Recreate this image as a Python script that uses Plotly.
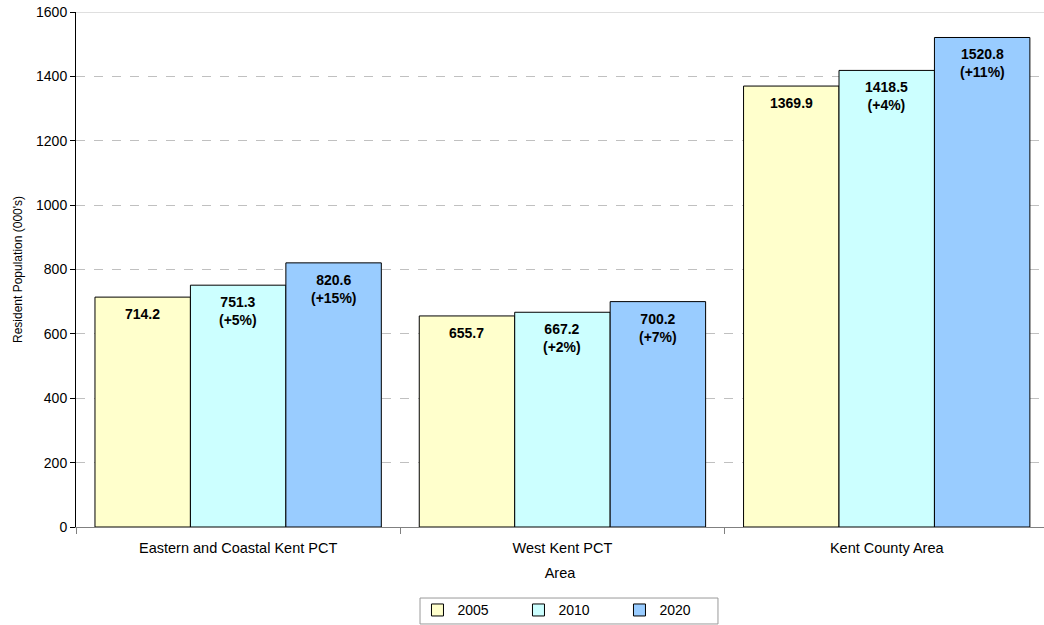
import plotly.graph_objects as go

categories = ["Eastern and Coastal Kent PCT", "West Kent PCT", "Kent County Area"]
years = ["2005", "2010", "2020"]
values_2005 = [714.2, 655.7, 1369.9]
values_2010 = [751.3, 667.2, 1418.5]
values_2020 = [820.6, 700.2, 1520.8]
labels_2005 = ["714.2", "655.7", "1369.9"]
labels_2010 = ["751.3<br>(+5%)", "667.2<br>(+2%)", "1418.5<br>(+4%)"]
labels_2020 = ["820.6<br>(+15%)", "700.2<br>(+7%)", "1520.8<br>(+11%)"]
y_ticks = [0, 200, 400, 600, 800, 1000, 1200, 1400, 1600]

series = [
    ("2005", values_2005, labels_2005, "#FFFFCC"),
    ("2010", values_2010, labels_2010, "#CCFFFF"),
    ("2020", values_2020, labels_2020, "#99CCFF"),
]

FONT = "Liberation Sans, Arial, sans-serif"

fig = go.Figure()
annotations = []
offsets = [-95.5, 0, 95.5]
for (name, vals, labs, color), off in zip(series, offsets):
    fig.add_trace(go.Bar(
        name=name, x=categories, y=vals,
        marker=dict(color=color, line=dict(color="black", width=1)),
        hoverinfo="skip",
    ))
    for c, v, t in zip(categories, vals, labs):
        annotations.append(dict(
            x=c, y=v, xref="x", yref="y", text="<b>%s</b>" % t,
            showarrow=False, yanchor="top", xanchor="center",
            xshift=off, yshift=-7,
            font=dict(family=FONT, size=14, color="black"),
        ))

fig.update_layout(
    width=1044, height=625,
    margin=dict(l=76, r=0, t=12, b=98, autoexpand=False),
    paper_bgcolor="white", plot_bgcolor="white",
    barmode="group", bargap=0.117, bargroupgap=0,
    font=dict(family=FONT, size=13, color="black"),
    showlegend=True,
    legend=dict(
        orientation="h", xref="container", yref="container",
        x=0.545, xanchor="center", y=0.049, yanchor="top",
        borderwidth=0, bgcolor="rgba(0,0,0,0)",
        entrywidth=56, entrywidthmode="pixels",
        font=dict(family=FONT, size=14),
    ),
    annotations=annotations,
)
fig.update_xaxes(
    title=dict(text="Area", font=dict(size=14.5), standoff=12),
    range=[-0.5, 2.485], showline=True, linecolor="#808080", linewidth=1,
    ticks="outside", tickson="boundaries", ticklen=6, tickcolor="#808080",
    ticklabelstandoff=8,
    showgrid=False, tickfont=dict(size=14.5), automargin=False,
)
fig.update_yaxes(
    title=dict(text="Resident Population (000's)", font=dict(size=12), standoff=10),
    range=[0, 1600], tickvals=y_ticks, showline=True, linecolor="black", linewidth=1,
    ticks="outside", ticklen=5, tickcolor="black",
    showgrid=True, gridcolor="#C0C0C0", griddash="dash", gridwidth=1,
    zeroline=False, tickfont=dict(size=14), automargin=False,
)
fig.add_shape(type="line", xref="paper", yref="y", x0=0, x1=1, y0=1600, y1=1600,
              line=dict(color="#C0C0C0", width=1))
# legend frame
fig.add_shape(type="rect", xref="paper", yref="paper",
              x0=0.3554, x1=0.6632, y0=-0.1379, y1=-0.1883,
              line=dict(color="#999999", width=1), fillcolor="rgba(0,0,0,0)")

fig.write_html("out.html")
